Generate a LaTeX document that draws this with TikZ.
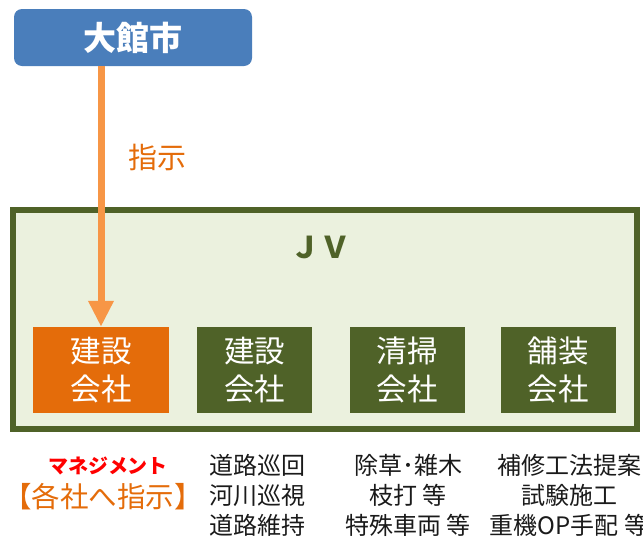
\documentclass[tikz,border=0pt]{standalone}
\usepackage{fontspec}
\setmainfont{Noto Sans CJK JP}
\usetikzlibrary{arrows.meta}
\definecolor{cblue}{HTML}{4A7EBB}
\definecolor{carrow}{HTML}{F79646}
\definecolor{corange}{HTML}{E46C0A}
\definecolor{cgreen}{HTML}{4F6228}
\definecolor{cfill}{HTML}{EBF1DE}
\definecolor{ctext}{HTML}{1A1A1A}
\begin{document}
\begin{tikzpicture}[x=1pt,y=-1pt,
  citybox/.style={fill=cblue,rounded corners=8pt,minimum width=238pt,minimum height=57pt,inner sep=0pt,text=white,font=\fontsize{33}{38}\selectfont\bfseries},
  jvbox/.style={draw=cgreen,line width=6pt,fill=cfill,minimum width=624pt,minimum height=219pt,inner sep=0pt},
  firm/.style={minimum height=86pt,inner sep=0pt,text=white,align=center,font=\fontsize{30.5}{38}\selectfont},
  listtext/.style={text=ctext,align=center,inner sep=0pt,font=\fontsize{24}{30}\selectfont}]
\useasboundingbox (0,0) rectangle (643,536);
\node[citybox] (city) at (133,37.5) {大館市};
\node[jvbox] (jv) at (325,319.5) {};
\node[text=cgreen,font=\fontsize{30}{34}\selectfont\bfseries] (jvlabel) at (320,247) {ＪＶ};
\node[firm,fill=corange,minimum width=136pt] (b1) at (101,370) {建設\\会社};
\node[firm,fill=cgreen,minimum width=115pt] (b2) at (254.5,370) {建設\\会社};
\node[firm,fill=cgreen,minimum width=115pt] (b3) at (407,370) {清掃\\会社};
\node[firm,fill=cgreen,minimum width=115pt] (b4) at (558,370) {舗装\\会社};
\draw[carrow,line width=7pt,-{Triangle[width=24pt,length=26pt]}] (b1.north |- city.south) -- (b1.north);
\node[text=corange,font=\fontsize{29}{32}\selectfont,anchor=west,inner sep=0pt] (shiji) at (128,157) {指示};
\node[text=red,font=\fontsize{20}{22}\selectfont\bfseries,inner sep=0pt] (mgmt) at (108,466) {マネジメント};
\node[text=corange,font=\fontsize{28.5}{30}\selectfont,inner sep=0pt] (kakusha) at (103,497) {【各社へ指示】};
\node[listtext,align=left,anchor=west] (c2) at (209,495) {道路巡回\\河川巡視\\道路維持};
\node[listtext] (c3) at (408,495) {除草･雑木\\枝打 等\\特殊車両 等};
\node[listtext] (c4) at (569,495) {補修工法提案\\試験施工\\重機OP手配 等};
\end{tikzpicture}
\end{document}
